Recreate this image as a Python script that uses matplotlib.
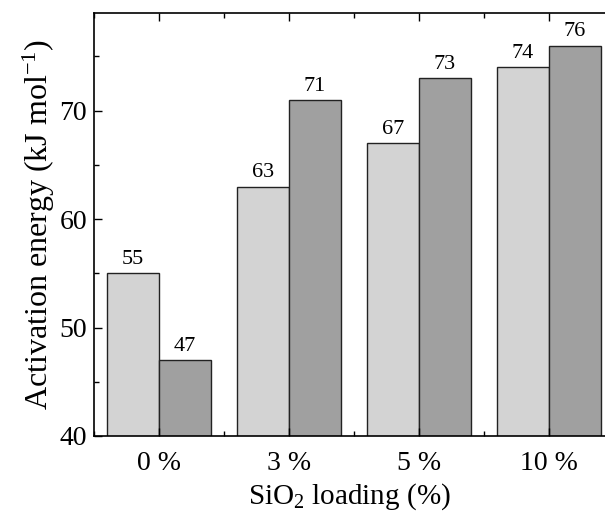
import numpy as np
import matplotlib.pyplot as plt
from matplotlib.ticker import MultipleLocator

plt.rcParams['font.family'] = ['Liberation Serif', 'DejaVu Serif']
plt.rcParams['mathtext.fontset'] = 'custom'
plt.rcParams['mathtext.rm'] = 'Liberation Serif'
plt.rcParams['mathtext.it'] = 'Liberation Serif:italic'

# data
categories = ['0 %', '3 %', '5 %', '10 %']
series_a = [55, 63, 67, 74]   # light bars
series_b = [47, 71, 73, 76]   # dark bars

x = np.arange(len(categories))
w = 0.4

fig = plt.figure(figsize=(6.05, 5.17), dpi=100)
ax = fig.add_axes([0.1554, 0.1567, 0.8446, 0.8182])

b1 = ax.bar(x - w/2, series_a, w, color='#d3d3d3', edgecolor='#222222', linewidth=1)
b2 = ax.bar(x + w/2, series_b, w, color='#a0a0a0', edgecolor='#222222', linewidth=1)
ax.bar_label(b1, padding=3, fontsize=16)
ax.bar_label(b2, padding=3, fontsize=16)

ax.set_xlim(-0.5, 3.431)
ax.set_ylim(40, 79)
ax.set_xticks(x)
ax.set_xticklabels(categories)
ax.xaxis.set_minor_locator(MultipleLocator(0.5, offset=0.5))
ax.yaxis.set_major_locator(MultipleLocator(10))
ax.yaxis.set_minor_locator(MultipleLocator(5))

ax.spines['right'].set_visible(False)
for s in ['left', 'top', 'bottom']:
    ax.spines[s].set_linewidth(1.2)

ax.tick_params(which='both', direction='in', width=1, top=True, right=False, labelsize=20)
ax.tick_params(which='major', length=6)
ax.tick_params(which='minor', length=3.5)
ax.tick_params(axis='y', pad=5)
ax.tick_params(axis='x', pad=11)

ax.set_ylabel(r'Activation energy (kJ mol$^{\mathregular{-1}}$)', fontsize=23, labelpad=2)
ax.set_xlabel(r'SiO$_{\mathregular{2}}$ loading (%)', fontsize=21, labelpad=4)

fig.savefig('out.png', dpi=100)
